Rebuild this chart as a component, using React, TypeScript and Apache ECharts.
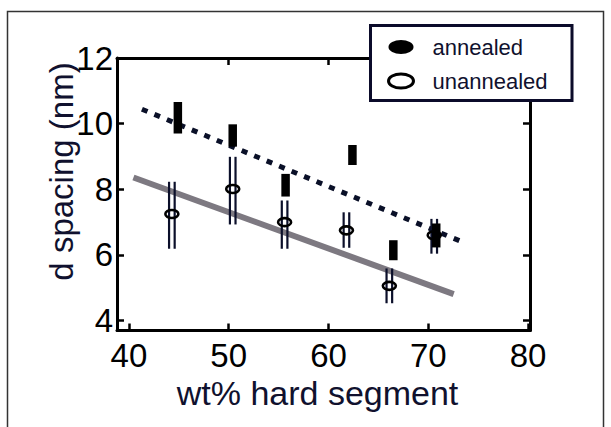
import React, { useEffect, useRef } from "react";
import * as echarts from "echarts";

// ---- data ----
const annealedX = [44.9, 50.4, 55.7, 62.4, 66.5, 70.8];
const annealedHigh = [10.66, 9.98, 8.47, 9.35, 6.45, 6.96];
const annealedLow = [9.7, 9.3, 7.78, 8.74, 5.84, 6.23];

const unannealedX = [44.3, 50.4, 55.6, 61.8, 66.1, 70.6];
const unannealedY = [7.25, 8.01, 7.0, 6.75, 5.06, 6.6];
const unannealedHigh = [8.23, 8.99, 7.66, 7.3, 5.59, 7.1];
const unannealedLow = [6.19, 6.93, 6.19, 6.22, 4.53, 6.04];

const fitAnnealed = [
  [41.3, 10.44],
  [73.8, 6.35],
];
const fitUnannealed = [
  [40.45, 8.36],
  [72.55, 4.81],
];

const xTicks = [40, 50, 60, 70, 80];
const yTicks = [4, 6, 8, 10, 12];

const xTitle = "wt% hard segment";
const yTitle = "d spacing (nm)";

const FONT = "'Liberation Sans', Arial, sans-serif";
const NAVY = "#10112e";
const ELLIPSE = "path://M0,7A12.5,7,0,1,0,25,7A12.5,7,0,1,0,0,7Z";

export default function App() {
  const ref = useRef<HTMLDivElement>(null);

  useEffect(() => {
    if (!ref.current) return;
    const chart = echarts.init(ref.current, undefined, { renderer: "svg" });

    const annealedData = annealedX.map((x, i) => [x, annealedHigh[i], annealedLow[i]]);
    const unannealedData = unannealedX.map((x, i) => [
      x,
      unannealedY[i],
      unannealedHigh[i],
      unannealedLow[i],
    ]);

    const axisLine = { show: true, lineStyle: { color: "#000", width: 3 } };
    const tick = (vals: number[]) => ({
      show: true,
      inside: true,
      length: 7,
      customValues: vals,
      lineStyle: { color: "#000", width: 2.5 },
    });

    chart.setOption({
      animation: false,
      backgroundColor: "#fff",
      graphic: [
        {
          type: "rect",
          z: -10,
          shape: { x: 7.5, y: 11.5, width: 596, height: 440 },
          style: { fill: "none", stroke: "#333", lineWidth: 1.5 },
        },
        {
          type: "text",
          x: 61.5,
          y: 171.5,
          rotation: Math.PI / 2,
          style: {
            text: yTitle,
            fontFamily: FONT,
            fontSize: 33,
            fill: NAVY,
            align: "center",
            verticalAlign: "middle",
          },
        },
      ],
      grid: { left: 117, right: 81, top: 58, bottom: 96.5 },
      legend: {
        left: 370.5,
        top: 25.5,
        orient: "vertical",
        backgroundColor: "#fff",
        borderColor: "#0b0b2a",
        borderWidth: 3,
        borderRadius: 0,
        padding: [10.5, 24.5, 8.5, 16.5],
        itemGap: 12,
        itemWidth: 25,
        itemHeight: 14,
        textStyle: {
          fontFamily: FONT,
          fontSize: 22,
          lineHeight: 22,
          color: NAVY,
          padding: [0, 0, 0, 14],
        },
        data: [
          { name: "annealed", icon: ELLIPSE, itemStyle: { color: "#000" } },
          {
            name: "unannealed",
            icon: ELLIPSE,
            itemStyle: { color: "#fff", borderColor: "#000", borderWidth: 3 },
          },
        ],
      },
      xAxis: [
        {
          type: "value",
          min: 38.8,
          max: 80.2,
          position: "bottom",
          axisLine,
          axisTick: tick(xTicks),
          splitLine: { show: false },
          axisLabel: {
            customValues: xTicks,
            fontFamily: FONT,
            fontSize: 33,
            color: "#000",
            margin: 8,
          },
          name: xTitle,
          nameLocation: "middle",
          nameGap: 45,
          nameTextStyle: {
            fontFamily: FONT,
            fontSize: 34,
            color: NAVY,
            padding: [0, 12, 0, 0],
          },
        },
        {
          type: "value",
          min: 38.8,
          max: 80.2,
          position: "top",
          axisLine,
          axisTick: tick([50, 60, 70]),
          splitLine: { show: false },
          axisLabel: { show: false },
        },
      ],
      yAxis: [
        {
          type: "value",
          min: 3.7,
          max: 12,
          position: "left",
          axisLine,
          axisTick: tick(yTicks),
          splitLine: { show: false },
          axisLabel: {
            customValues: yTicks,
            fontFamily: FONT,
            fontSize: 33,
            color: "#000",
            margin: 4,
          },
        },
        {
          type: "value",
          min: 3.7,
          max: 12,
          position: "right",
          axisLine,
          axisTick: tick([4, 6, 8, 10]),
          splitLine: { show: false },
          axisLabel: { show: false },
        },
      ],
      series: [
        {
          name: "fit unannealed",
          type: "line",
          data: fitUnannealed,
          showSymbol: false,
          silent: true,
          z: 1,
          lineStyle: { color: "#7d7981", width: 6 },
        },
        {
          name: "fit annealed",
          type: "line",
          data: fitAnnealed,
          showSymbol: false,
          silent: true,
          z: 1,
          lineStyle: { color: "#0a1028", width: 5, type: [6, 7.5], cap: "butt" },
        },
        {
          name: "unannealed",
          type: "custom",
          z: 3,
          data: unannealedData,
          encode: { x: 0, y: 1 },
          renderItem: (_params: any, api: any) => {
            const x = api.value(0);
            const c = api.coord([x, api.value(1)]);
            const t = api.coord([x, api.value(2)]);
            const b = api.coord([x, api.value(3)]);
            const d = 2.8;
            return {
              type: "group",
              children: [
                {
                  type: "line",
                  shape: { x1: t[0] - d, y1: t[1], x2: b[0] - d, y2: b[1] },
                  style: { stroke: "#0b0f2a", lineWidth: 2.2 },
                },
                {
                  type: "line",
                  shape: { x1: t[0] + d, y1: t[1], x2: b[0] + d, y2: b[1] },
                  style: { stroke: "#0b0f2a", lineWidth: 2.2 },
                },
                {
                  type: "ellipse",
                  shape: { cx: c[0], cy: c[1], rx: 6.5, ry: 4 },
                  style: { fill: "none", stroke: "#000", lineWidth: 2.6 },
                },
              ],
            };
          },
        },
        {
          name: "annealed",
          type: "custom",
          z: 4,
          data: annealedData,
          encode: { x: 0, y: [1, 2] },
          renderItem: (_params: any, api: any) => {
            const x = api.value(0);
            const t = api.coord([x, api.value(1)]);
            const b = api.coord([x, api.value(2)]);
            return {
              type: "rect",
              shape: { x: t[0] - 4.25, y: t[1], width: 8.5, height: b[1] - t[1] },
              style: { fill: "#000" },
            };
          },
        },
      ],
    });

    return () => chart.dispose();
  }, []);

  return (
    <div
      ref={ref}
      style={{ position: "fixed", left: 0, top: 0, width: 611, height: 427 }}
    />
  );
}
